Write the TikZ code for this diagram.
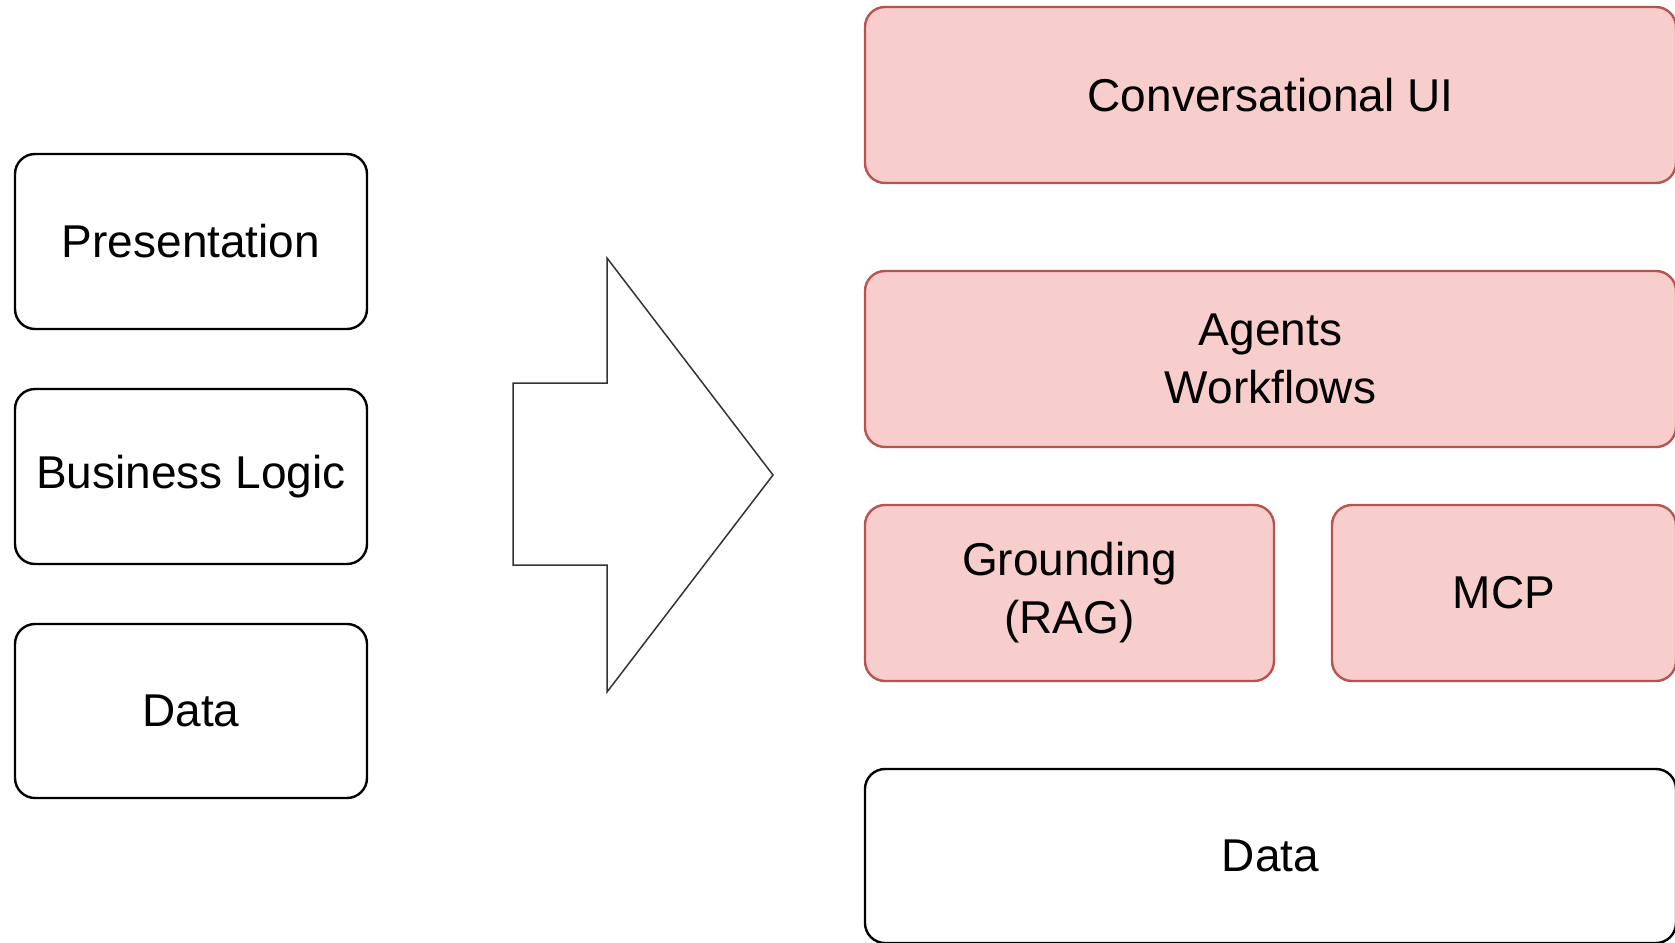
\documentclass[tikz,border=0pt]{standalone}
\usepackage{fontspec}
\setmainfont{Liberation Sans}
\usepackage{tikz}
\usepackage{xcolor}
\usetikzlibrary{positioning}

\definecolor{layerfill}{HTML}{F8CECC}
\definecolor{layerline}{HTML}{B85450}

\tikzset{
  tier/.style={shape=rectangle,draw=black,line width=1.2pt,rounded corners=10pt,
    fill=white,align=center,inner sep=0pt,
    font=\fontsize{23}{29}\selectfont,minimum width=176pt,minimum height=87.5pt},
  agentic/.style={tier,draw=layerline,fill=layerfill},
}

\begin{document}
\begin{tikzpicture}[x=0.5pt,y=-0.5pt]
\useasboundingbox (0,0) rectangle (1675,942);

% classic three tiers
\node[tier] (pres) at (191,241.5){Presentation};
\node[tier] (logic) at (191,476.5){Business Logic};
\node[tier,minimum height=87pt] (data) at (191,711){Data};

% big arrow
\draw[black!80,line width=0.75pt,line join=miter] (513,383) -- (607,383) -- (607,258) -- (773,475)
  -- (607,692) -- (607,565) -- (513,565) -- cycle;

% agentic stack
\node[agentic,minimum width=405.5pt,minimum height=88pt] (conv) at (1270.5,95){Conversational UI};
\node[agentic,minimum width=405.5pt,minimum height=88pt] (agents) at (1270.5,359){Agents\\Workflows};
\node[agentic,minimum width=204.5pt,minimum height=88pt] (rag) at (1069.5,593){Grounding\\(RAG)};
\node[agentic,minimum width=172pt,minimum height=88pt] (mcp) at (1504,593){MCP};
\node[tier,minimum width=405.5pt,minimum height=87pt] (store) at (1270.5,856){Data};

\end{tikzpicture}
\end{document}
